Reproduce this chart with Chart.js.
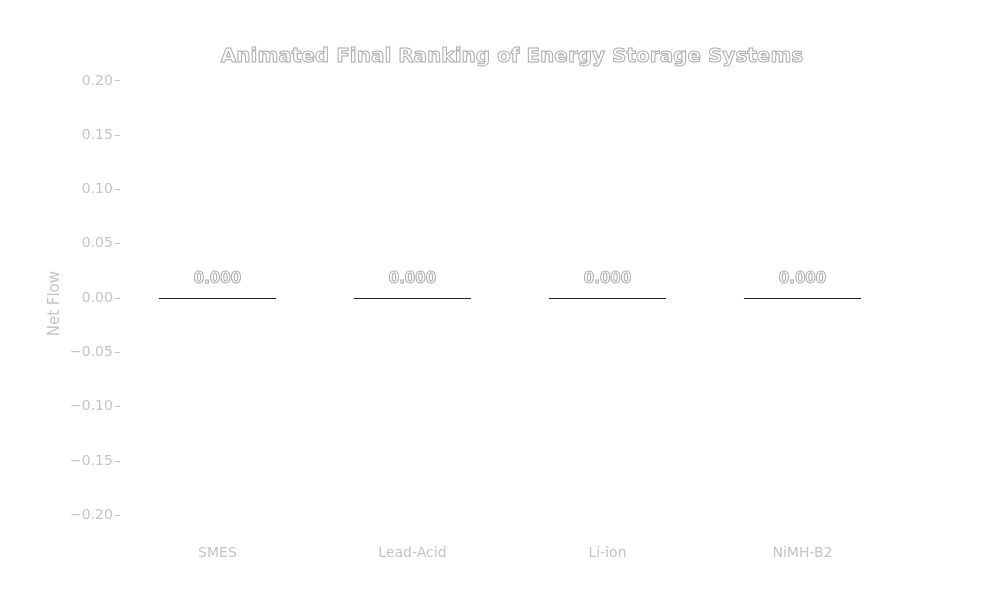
<!DOCTYPE html>
<html>
<head>
<meta charset="utf-8">
<script src="https://cdn.jsdelivr.net/npm/chart.js@4"></script>
<style>body{margin:0;background:#fff}#wrap{width:1000px;height:600px}</style>
</head>
<body>
<div id="wrap"><canvas id="c"></canvas></div>
<script>
const categories = ['SMES', 'Lead-Acid', 'Li-ion', 'NiMH-B2'];
const netFlow = [0.0, 0.0, 0.0, 0.0];
const yTicks = [-0.2, -0.15, -0.1, -0.05, 0, 0.05, 0.1, 0.15, 0.2];
const titleText = 'Animated Final Ranking of Energy Storage Systems';

const textColor = '#c4c4c4';

const overlay = {
    id: 'overlay',
    afterDatasetsDraw(chart) {
        const ctx = chart.ctx;
        const meta = chart.getDatasetMeta(0);
        const ys = chart.scales.y;
        ctx.save();
        // bar outlines (zero-height bars collapse to a line)
        ctx.strokeStyle = '#222';
        ctx.lineWidth = 1;
        meta.data.forEach(function (bar, i) {
            const y0 = Math.round(ys.getPixelForValue(0)) + 0.5;
            const y1 = Math.round(ys.getPixelForValue(netFlow[i])) + 0.5;
            ctx.strokeRect(bar.x - bar.width / 2, Math.min(y0, y1), bar.width, Math.abs(y1 - y0));
        });
        ctx.textAlign = 'center';
        ctx.textBaseline = 'middle';
        ctx.strokeStyle = '#aaa';
        ctx.fillStyle = '#fff';
        ctx.font = 'bold 15px "DejaVu Sans"';
        meta.data.forEach(function (bar, i) {
            const y = ys.getPixelForValue(netFlow[i]) - 19;
            ctx.fillText(netFlow[i].toFixed(3), bar.x, y);
            ctx.strokeText(netFlow[i].toFixed(3), bar.x, y);
        });
        ctx.font = 'bold 20px "DejaVu Sans"';
        ctx.fillText(titleText, 512, 57);
        ctx.strokeText(titleText, 512, 57);
        ctx.restore();
    }
};

new Chart(document.getElementById('c'), {
    type: 'bar',
    data: {
        labels: categories,
        datasets: [{
            data: netFlow,
            backgroundColor: 'rgba(0,0,0,0)',
            borderWidth: 0,
            barPercentage: 0.6,
            categoryPercentage: 1
        }]
    },
    options: {
        responsive: true,
        maintainAspectRatio: false,
        animation: false,
        layout: { padding: { top: 70, right: 100, left: 42, bottom: 30 } },
        plugins: { legend: { display: false }, tooltip: { enabled: false } },
        scales: {
            x: {
                grid: { display: false, drawTicks: false },
                border: { display: false },
                ticks: { color: textColor, font: { family: 'DejaVu Sans', size: 14 }, padding: 8 }
            },
            y: {
                min: -0.22,
                max: 0.21,
                afterBuildTicks(axis) { axis.ticks = yTicks.map(v => ({ value: v })); },
                grid: { display: true, drawOnChartArea: false, drawTicks: true, tickLength: 5, color: textColor },
                border: { display: false },
                title: { display: true, text: 'Net Flow', color: textColor, font: { family: 'DejaVu Sans', size: 15 } },
                ticks: {
                    color: textColor,
                    font: { family: 'DejaVu Sans', size: 14 },
                    padding: 2,
                    callback: v => (v < 0 ? '\u2212' : '') + Math.abs(v).toFixed(2)
                }
            }
        }
    },
    plugins: [overlay]
});
</script>
</body>
</html>
